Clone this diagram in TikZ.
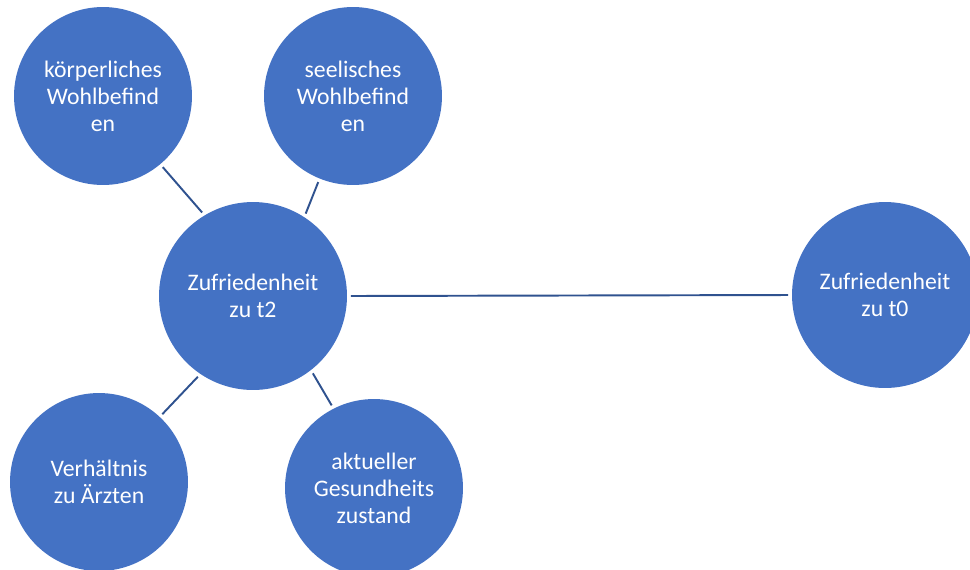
\documentclass[tikz,border=0pt]{standalone}
\usepackage{fontspec}
\setmainfont{Carlito}
\usepackage{tikz}
\usetikzlibrary{positioning}

\definecolor{bubbleblue}{HTML}{4472C4}
\definecolor{linkblue}{HTML}{2F528F}

\begin{document}
\begin{tikzpicture}[
    x=0.02cm, y=-0.02cm,
    bubble/.style={circle, fill=bubbleblue, text=white, align=center, inner sep=0pt,
                   font=\fontsize{13.5}{15.3}\selectfont, minimum size=3.56cm},
    link/.style={draw=linkblue, line width=1.1pt, shorten <=2pt, shorten >=2pt}
]
\useasboundingbox (0,0) rectangle (970,569);

\node[bubble, minimum size=3.76cm] (zt2) at (253,296) {Zufriedenheit\\zu t2};
\node[bubble] (koerper) at (103,96) {körperliches\\Wohlbefind\\en};
\node[bubble] (seele) at (353,96) {seelisches\\Wohlbefind\\en};
\node[bubble, minimum size=3.72cm] (zt0) at (885,295) {Zufriedenheit\\zu t0};
\node[bubble] (aerzte) at (99,482) {Verhältnis\\zu Ärzten};
\node[bubble] (gesund) at (374,488) {aktueller\\Gesundheits\\zustand};

\draw[link] (koerper.-50) -- (zt2.121);
\draw[link] (seele.-112) -- (zt2.57);
\draw[link] (zt2.0) -- (zt0.180);
\draw[link] (zt2.236) -- (aerzte.47);
\draw[link] (zt2.-52) -- (gesund.117);
\end{tikzpicture}
\end{document}
